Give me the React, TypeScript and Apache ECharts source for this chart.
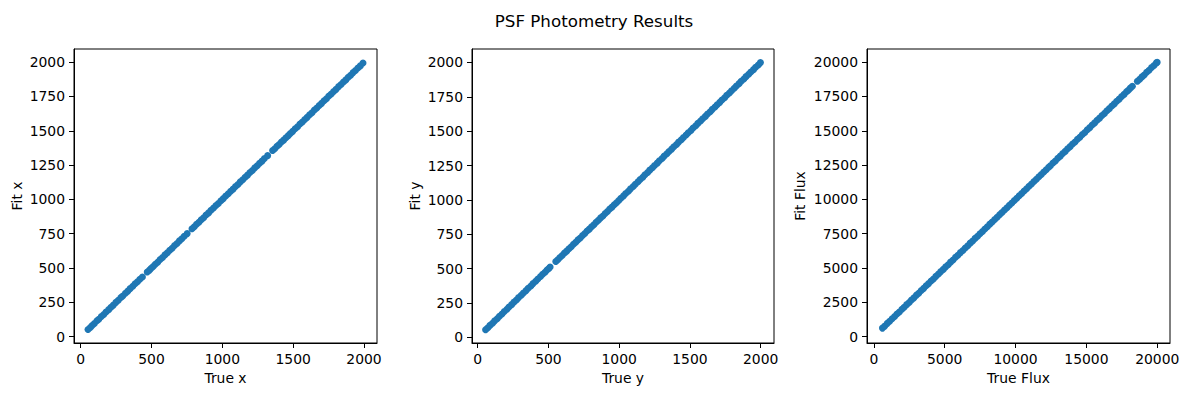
import React, { useEffect, useRef } from "react";
import * as echarts from "echarts";

const TITLE = "PSF Photometry Results";

// [true, fit] pairs
const xPairs: [number, number][] = [
  [52, 53], [68, 67], [81, 82], [97, 96], [115, 116], [128, 127], [146, 147], [163, 162], [179, 180], [198, 197],
  [214, 215], [231, 230], [249, 250], [266, 265], [284, 285], [297, 296], [316, 317], [333, 332], [349, 350], [368, 367],
  [384, 385], [401, 400], [418, 419], [436, 435], [470, 471], [486, 485], [498, 499], [512, 511], [527, 528], [544, 543],
  [561, 562], [578, 577], [595, 596], [612, 611], [629, 630], [646, 645], [663, 664], [680, 679], [697, 698], [714, 713],
  [731, 732], [752, 751], [786, 787], [802, 801], [818, 819], [835, 834], [851, 852], [868, 867], [885, 886], [903, 902],
  [920, 921], [938, 937], [955, 956], [972, 971], [990, 991], [1007, 1006], [1024, 1025], [1042, 1041], [1059, 1060], [1076, 1075],
  [1093, 1094], [1110, 1109], [1127, 1128], [1144, 1143], [1161, 1162], [1178, 1177], [1195, 1196], [1212, 1211], [1229, 1230], [1246, 1245],
  [1263, 1264], [1280, 1279], [1297, 1298], [1320, 1319], [1355, 1356], [1370, 1369], [1386, 1387], [1401, 1400], [1417, 1418], [1433, 1432],
  [1449, 1450], [1466, 1465], [1480, 1481], [1497, 1496], [1514, 1515], [1531, 1530], [1548, 1549], [1565, 1564], [1582, 1583], [1599, 1598],
  [1616, 1617], [1633, 1632], [1650, 1651], [1667, 1666], [1684, 1685], [1701, 1700], [1718, 1719], [1735, 1734], [1752, 1753], [1769, 1768],
  [1786, 1787], [1803, 1802], [1821, 1822], [1838, 1837], [1855, 1856], [1872, 1871], [1889, 1890], [1906, 1905], [1923, 1924], [1940, 1939],
  [1957, 1958], [1974, 1973], [1993, 1994],
];

const yPairs: [number, number][] = [
  [56, 57], [72, 71], [87, 88], [105, 104], [120, 121], [138, 137], [154, 155], [172, 171], [188, 189], [207, 206],
  [221, 222], [240, 239], [256, 257], [274, 273], [289, 290], [308, 307], [323, 324], [342, 341], [357, 358], [376, 375],
  [391, 392], [410, 409], [425, 426], [444, 443], [459, 460], [476, 475], [490, 491], [503, 502], [512, 513], [552, 553],
  [566, 565], [581, 582], [597, 596], [613, 614], [629, 628], [645, 646], [661, 660], [677, 678], [693, 692], [709, 710],
  [725, 724], [741, 742], [757, 756], [773, 774], [789, 788], [805, 806], [821, 820], [837, 838], [853, 852], [869, 870],
  [885, 884], [901, 902], [917, 916], [933, 934], [949, 948], [965, 966], [981, 980], [997, 996], [1012, 1013], [1031, 1030],
  [1046, 1047], [1065, 1064], [1080, 1081], [1099, 1098], [1114, 1115], [1133, 1132], [1148, 1149], [1167, 1166], [1182, 1183], [1201, 1200],
  [1216, 1217], [1235, 1234], [1250, 1251], [1269, 1268], [1284, 1285], [1303, 1302], [1318, 1319], [1337, 1336], [1352, 1353], [1371, 1370],
  [1386, 1387], [1405, 1404], [1420, 1421], [1439, 1438], [1454, 1455], [1473, 1472], [1488, 1489], [1507, 1506], [1522, 1523], [1541, 1540],
  [1556, 1557], [1575, 1574], [1590, 1591], [1609, 1608], [1624, 1625], [1643, 1642], [1658, 1659], [1677, 1676], [1692, 1693], [1711, 1710],
  [1726, 1727], [1745, 1744], [1760, 1761], [1779, 1778], [1794, 1795], [1813, 1812], [1828, 1829], [1847, 1846], [1862, 1863], [1881, 1880],
  [1896, 1897], [1915, 1914], [1930, 1931], [1949, 1948], [1964, 1965], [1983, 1982], [1998, 1999],
];

const fluxPairs: [number, number][] = [
  [608, 615], [771, 762], [955, 961], [1118, 1110], [1290, 1298], [1467, 1459], [1631, 1640], [1802, 1795], [1985, 1992], [2140, 2131],
  [2318, 2327], [2496, 2488], [2655, 2662], [2830, 2821], [3012, 3020], [3170, 3163], [3348, 3356], [3521, 3512], [3690, 3697], [3866, 3858],
  [4041, 4049], [4207, 4199], [4380, 4388], [4562, 4553], [4725, 4733], [4903, 4895], [5071, 5080], [5248, 5240], [5415, 5423], [5590, 5581],
  [5766, 5774], [5934, 5926], [6110, 6118], [6285, 6276], [6452, 6460], [6630, 6622], [6801, 6809], [6975, 6966], [7146, 7154], [7322, 7314],
  [7490, 7498], [7668, 7659], [7835, 7843], [8010, 8002], [8185, 8193], [8354, 8345], [8530, 8538], [8701, 8693], [8877, 8885], [9046, 9037],
  [9222, 9230], [9395, 9387], [9568, 9576], [9740, 9731], [9915, 9923], [10087, 10079], [10260, 10268], [10434, 10425], [10606, 10614], [10781, 10773],
  [10952, 10960], [11127, 11118], [11299, 11307], [11472, 11464], [11646, 11654], [11818, 11809], [11992, 12000], [12165, 12157], [12338, 12346], [12460, 12452],
  [12640, 12648], [12810, 12801], [12985, 12993], [13158, 13150], [13330, 13338], [13505, 13496], [13676, 13684], [13850, 13842], [14023, 14031], [14196, 14187],
  [14370, 14378], [14542, 14534], [14716, 14724], [14889, 14880], [15062, 15070], [15236, 15228], [15408, 15416], [15582, 15573], [15755, 15763], [15928, 15920],
  [16101, 16109], [16274, 16265], [16448, 16456], [16620, 16612], [16794, 16802], [16967, 16958], [17140, 17148], [17313, 17305], [17487, 17495], [17660, 17651],
  [17832, 17840], [17960, 17952], [18100, 18108], [18245, 18238], [18600, 18608], [18760, 18752], [18920, 18928], [19078, 19070], [19251, 19259], [19424, 19415],
  [19598, 19606], [19770, 19762], [19940, 19948], [19996, 19990],
];

const posTicksX = [0, 500, 1000, 1500, 2000];
const posTicksY = [0, 250, 500, 750, 1000, 1250, 1500, 1750, 2000];
const fluxTicksX = [0, 5000, 10000, 15000, 20000];
const fluxTicksY = [0, 2500, 5000, 7500, 10000, 12500, 15000, 17500, 20000];

const panelNames = [
  { x: "True x", y: "Fit x" },
  { x: "True y", y: "Fit y" },
  { x: "True Flux", y: "Fit Flux" },
];

const COLOR = "#1f77b4";
const FONT = "DejaVu Sans";

function axis(gridIndex: number, min: number, max: number, ticks: number[], name: string, nameGap: number) {
  return {
    type: "value",
    gridIndex,
    min,
    max,
    name,
    nameLocation: "middle",
    nameGap,
    nameTextStyle: { color: "#000", fontSize: 13.9, fontFamily: FONT },
    axisLine: { show: true, onZero: false, lineStyle: { color: "#000", width: 1 } },
    axisTick: { show: true, inside: false, length: 5, customValues: ticks, lineStyle: { color: "#000", width: 1 } },
    axisLabel: {
      show: true,
      customValues: ticks,
      margin: 9,
      color: "#000",
      fontSize: 13.9,
      fontFamily: FONT,
      formatter: (v: number) => String(v),
    },
    splitLine: { show: false },
  };
}

export default function App() {
  const ref = useRef<HTMLDivElement>(null);
  useEffect(() => {
    if (!ref.current) return;
    const chart = echarts.init(ref.current, null, { renderer: "svg" });
    const grids = [
      { left: 74, top: 49, width: 303, height: 294 },
      { left: 472, top: 49, width: 302, height: 294 },
      { left: 867, top: 49, width: 303, height: 294 },
    ].map((g) => ({ ...g, show: true, borderColor: "#000", borderWidth: 1, backgroundColor: "transparent" }));

    const option = {
      animation: false,
      backgroundColor: "#fff",
      title: {
        text: TITLE,
        left: "center",
        top: 7,
        textStyle: { color: "#000", fontSize: 16.7, fontWeight: "normal", fontFamily: FONT },
      },
      grid: grids,
      xAxis: [
        axis(0, -47, 2092, posTicksX, panelNames[0].x, 28),
        axis(1, -40, 2094, posTicksX, panelNames[1].x, 28),
        axis(2, -480, 20900, fluxTicksX, panelNames[2].x, 28),
      ],
      yAxis: [
        axis(0, -46, 2096, posTicksY, panelNames[0].y, 50),
        axis(1, -40, 2098, posTicksY, panelNames[1].y, 50),
        axis(2, -470, 20960, fluxTicksY, panelNames[2].y, 60),
      ],
      series: [xPairs, yPairs, fluxPairs].map((d, i) => ({
        type: "scatter",
        xAxisIndex: i,
        yAxisIndex: i,
        data: d,
        symbol: "circle",
        symbolSize: 7,
        itemStyle: { color: COLOR, opacity: 1 },
        silent: true,
      })),
    };
    chart.setOption(option as any);
    return () => chart.dispose();
  }, []);
  return (
    <div
      ref={ref}
      style={{ position: "fixed", left: 0, top: 0, width: 1188, height: 396, background: "#fff" }}
    />
  );
}
